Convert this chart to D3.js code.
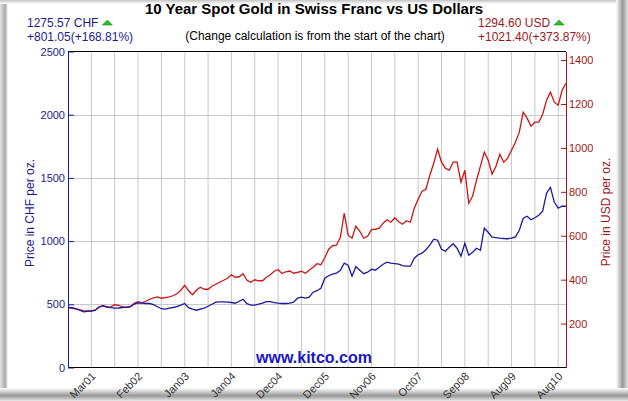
<!DOCTYPE html>
<html>
<head>
<meta charset="utf-8">
<script src="https://cdn.jsdelivr.net/npm/d3@7"></script>
<style>
    body { margin: 0; background: #fff; }
    text { font-family: Arial, "Liberation Sans", sans-serif; }
</style>
</head>
<body>
<div id="chart"></div>
<script>
// gold price, 129 samples over ten years (index based x axis)
var usd = [273.2,269.7,266.5,262.9,259.2,258.3,258.3,262.9,274.3,281.1,
    274.3,276.5,285.7,283.4,275.6,274.3,276.5,292.5,299.3,294.8,
    301.6,310.7,317.6,321.2,315.3,318.5,322.1,326.7,335.8,351.7,
    374.5,349.4,331.2,351.7,365.4,356.3,356.3,369.9,379.1,388.2,
    397.3,406.4,422.3,411,413.2,426.9,397.3,388.2,399.6,395,
    395,411,422.3,438.3,445.1,427.8,436,439.2,429.2,433.7,
    438.3,429.2,442.8,456.5,472.5,467.9,499.8,538.5,554.5,556.7,
    593.2,702.5,602.3,588.6,643.3,620.5,588.6,597.7,627.4,629.6,
    634.2,657,672.9,661.5,682,663.8,652.4,668.4,661.5,725.3,
    766.3,802.8,811.9,875.7,930.3,994.1,934.9,907.6,898.4,934.9,
    934.9,843.8,898.4,748.1,780,852.9,916.7,980.5,944,880.2,
    916.7,971.3,934.9,953.1,989.6,1026,1071.6,1162.7,1135.4,1098.9,
    1117.1,1117.1,1153.6,1217.4,1253.8,1208.2,1194.6,1262.9,1294.6];

var chf = [474.52,473,466.7,453.2,439.8,443.8,446.9,451.7,480.9,488.8,
    479.3,473,469.1,470.6,474.6,477,480.9,500.7,511,508.6,
    506.2,506.2,496.7,480.9,465.1,461.2,469.1,474.6,480.9,492.8,
    506.2,473,461.2,453.2,461.2,469.1,484.9,500.7,516.5,518.9,
    518.9,516.5,514.2,508.6,524.4,540.3,504.7,492.8,492.8,500.7,
    508.6,520.5,520.5,512.6,508.6,506.2,506.2,508.6,516.5,548.2,
    556.1,549.7,556.1,595.6,607.5,627.3,706.4,726.1,738,745.9,
    769.6,825,809.2,722.2,797.3,769.6,742,753.8,777.6,769.6,
    793.4,817.1,832.9,825,821,817.1,805.2,801.3,801.3,864.6,
    892.2,904.1,931.8,967.4,1014.9,1006.9,935.8,919.9,951.6,979.3,
    943.7,880.4,983.2,888.3,912,943.7,927.8,1101.9,1070.2,1030.7,
    1026.7,1022.8,1020.4,1018.8,1022.8,1033,1086,1181,1196.8,1169.1,
    1184.9,1204.7,1236.3,1378.7,1426.2,1307.5,1260.1,1275.9,1275.57];

var xLabels = ["Mar01", "Feb02", "Jan03", "Jan04", "Dec04", "Dec05", "Nov06", "Oct07", "Sep08", "Aug09", "Aug10"];
var xLabelIdx = [6, 18, 30, 42, 54, 66, 78, 90, 102, 114, 126];
var chfTicks = [0, 500, 1000, 1500, 2000, 2500];
var usdTicks = [200, 400, 600, 800, 1000, 1200, 1400];

var width = 628,
    height = 401;

var navy = "#1c1c8c",
    darkRed = "#a01818",
    blueLine = "#1a1a9e",
    redLine = "#cc1414";

var svg = d3.select("#chart")
    .append("svg")
    .attr("xmlns", "http://www.w3.org/2000/svg")
    .attr("width", width)
    .attr("height", height)

var pLeft = 68, pRight = 566, pTop = 51.5, pBottom = 367.5;

var x = d3.scaleLinear().domain([0, usd.length - 1]).range([pLeft, pRight]);
var yL = d3.scaleLinear().domain([0, 2500]).range([pBottom, pTop]);
var yR = d3.scaleLinear().domain([0, 1439]).range([pBottom, pTop]);

// beveled frame
var defs = svg.append("defs");
function grad(id, x2, y2, stops) {
    var g = defs.append("linearGradient").attr("id", id)
        .attr("x1", 0).attr("y1", 0).attr("x2", x2).attr("y2", y2);
    stops.forEach(function (s) {
        g.append("stop").attr("offset", s[0]).attr("stop-color", s[1]);
    })
}
grad("gl", 1, 0, [[0, "#e4e4e4"], [0.65, "#a8a8a8"], [1, "#ffffff"]]);
grad("gt", 0, 1, [[0, "#c4c4c4"], [1, "#ffffff"]]);
grad("gr", 1, 0, [[0, "#ffffff"], [0.55, "#989898"], [1, "#e2e2e2"]]);
grad("gb", 0, 1, [[0, "#ffffff"], [0.6, "#989898"], [1, "#e8e8e8"]]);

svg.append("rect").attr("x", 0).attr("y", 0).attr("width", 8).attr("height", height).attr("fill", "url(#gl)");
svg.append("rect").attr("x", 0).attr("y", 0).attr("width", width).attr("height", 4).attr("fill", "url(#gt)");
svg.append("rect").attr("x", 616).attr("y", 0).attr("width", 12).attr("height", height).attr("fill", "url(#gr)");
svg.append("rect").attr("x", 0).attr("y", 388).attr("width", width).attr("height", 13).attr("fill", "url(#gb)");

// grid
svg.append("g").selectAll("line")
    .data(d3.range(6, usd.length, 6))
    .enter().append("line")
    .attr("x1", function (d) { return x(d) }).attr("x2", function (d) { return x(d) })
    .attr("y1", pTop).attr("y2", pBottom)
    .attr("stroke", "#c8c8c8").attr("stroke-width", 1)

svg.append("g").selectAll("line")
    .data(chfTicks.slice(1, -1))
    .enter().append("line")
    .attr("x1", pLeft).attr("x2", pRight)
    .attr("y1", function (d) { return Math.round(yL(d)) + 0.5 })
    .attr("y2", function (d) { return Math.round(yL(d)) + 0.5 })
    .attr("stroke", "#c8c8c8").attr("stroke-width", 1)

// watermark
svg.append("text")
    .attr("x", 314).attr("y", 363)
    .attr("text-anchor", "middle")
    .attr("style", "font-weight:bold;font-size:16px")
    .attr("fill", "#1717c4")
    .text("www.kitco.com")

// lines
var lineUsd = d3.line().x(function (d, i) { return x(i) }).y(function (d) { return yR(d) });
var lineChf = d3.line().x(function (d, i) { return x(i) }).y(function (d) { return yL(d) });

svg.append("path").datum(usd)
    .attr("d", lineUsd).attr("fill", "none")
    .attr("stroke", redLine).attr("stroke-width", 1.3)

svg.append("path").datum(chf)
    .attr("d", lineChf).attr("fill", "none")
    .attr("stroke", blueLine).attr("stroke-width", 1.3)

// plot border
svg.append("line").attr("x1", pLeft).attr("x2", pRight).attr("y1", pTop).attr("y2", pTop).attr("stroke", "#000")
svg.append("line").attr("x1", pLeft).attr("x2", pRight).attr("y1", pBottom).attr("y2", pBottom).attr("stroke", "#000")

// axes
var axL = svg.append("g")
    .attr("transform", "translate(" + pLeft + ",0)")
    .call(d3.axisLeft(yL).tickValues(chfTicks).tickFormat(d3.format("d")).tickSizeInner(-6).tickSizeOuter(0).tickPadding(3))
axL.select(".domain").attr("stroke", navy)
axL.selectAll("line").attr("stroke", navy)
axL.selectAll("text").attr("fill", navy).attr("style", "font-size:11px").attr("font-family", null)

var axR = svg.append("g")
    .attr("transform", "translate(" + pRight + ",0)")
    .call(d3.axisRight(yR).tickValues(usdTicks).tickFormat(d3.format("d")).tickSizeInner(-5).tickSizeOuter(0).tickPadding(3))
axR.select(".domain").attr("stroke", darkRed)
axR.selectAll("line").attr("stroke", darkRed)
axR.selectAll("text").attr("fill", darkRed).attr("style", "font-size:11px").attr("font-family", null)

// x labels
svg.append("g").selectAll("text")
    .data(xLabels)
    .enter().append("text")
    .attr("transform", function (d, i) {
        return "translate(" + (x(xLabelIdx[i]) + 5) + "," + 377 + ") rotate(-45)";
    })
    .attr("text-anchor", "end")
    .attr("style", "font-size:11px")
    .attr("fill", "#333")
    .text(function (d) { return d })

// axis titles
svg.append("text")
    .attr("transform", "translate(34,213) rotate(-90)")
    .attr("text-anchor", "middle")
    .attr("style", "font-size:12px")
    .attr("fill", navy)
    .text("Price in CHF per oz.")

svg.append("text")
    .attr("transform", "translate(610,212) rotate(-90)")
    .attr("text-anchor", "middle")
    .attr("style", "font-size:12px")
    .attr("fill", darkRed)
    .text("Price in USD per oz.")

// titles
svg.append("text")
    .attr("x", 314).attr("y", 14)
    .attr("text-anchor", "middle")
    .attr("style", "font-weight:bold;font-size:15px")
    .attr("fill", "#000")
    .text("10 Year Spot Gold in Swiss Franc vs US Dollars")

svg.append("text")
    .attr("x", 315).attr("y", 40)
    .attr("text-anchor", "middle")
    .attr("style", "font-size:12px")
    .attr("fill", "#000")
    .text("(Change calculation is from the start of the chart)")

// header values
var last = chf[chf.length - 1], lastU = usd[usd.length - 1];
var headers = [
    { x: 27, color: navy, l1: last.toFixed(2) + " CHF", l2: "+" + (last - chf[0]).toFixed(2) + "(+168.81%)" },
    { x: 478, color: darkRed, l1: lastU.toFixed(2) + " USD", l2: "+" + (lastU - usd[0]).toFixed(2) + "(+373.87%)" }
]
headers.forEach(function (h) {
    var t = svg.append("text")
        .attr("x", h.x).attr("y", 27)
        .attr("style", "font-size:12px")
        .attr("fill", h.color)
        .text(h.l1)
    var w = t.node().getComputedTextLength();
    svg.append("text")
        .attr("x", h.x).attr("y", 41)
        .attr("style", "font-size:12px")
        .attr("fill", h.color)
        .text(h.l2)
    var tx = h.x + w + 4;
    svg.append("path")
        .attr("d", "M" + tx + ",25L" + (tx + 10) + ",25L" + (tx + 5) + ",20Z")
        .attr("fill", "#22c022").attr("stroke", "#129012").attr("stroke-width", 0.6)
})
</script>
</body>
</html>
